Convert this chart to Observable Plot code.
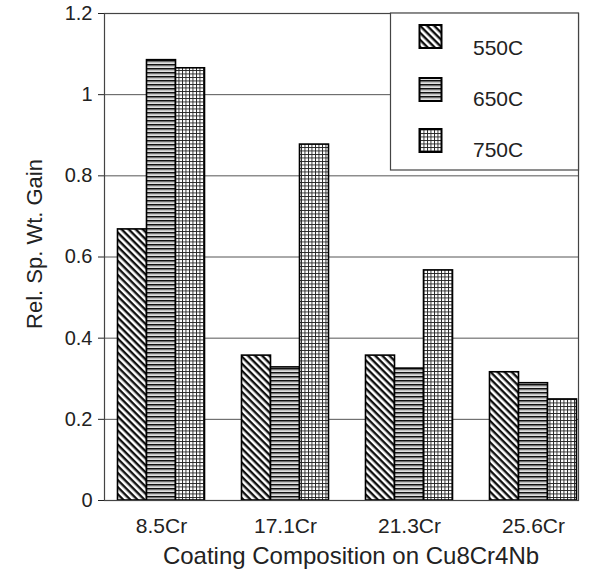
<!DOCTYPE html>
<html>
<head>
<meta charset="utf-8">
<script src="https://cdn.jsdelivr.net/npm/d3@7"></script>
<script src="https://cdn.jsdelivr.net/npm/@observablehq/plot@0.6"></script>
<style>
  html, body { margin: 0; padding: 0; background: #fff; }
  #chart { width: 599px; height: 572px; }
</style>
</head>
<body>
<div id="chart"></div>
<script>
// ---- data ----
const categories = ["8.5Cr", "17.1Cr", "21.3Cr", "25.6Cr"];
const series = ["550C", "650C", "750C"];
const values550 = [0.668, 0.357, 0.357, 0.316];
const values650 = [1.085, 0.328, 0.325, 0.289];
const values750 = [1.065, 0.877, 0.567, 0.249];
const yTicks = [0, 0.2, 0.4, 0.6, 0.8, 1, 1.2];
const yLabels = ["0", "0.2", "0.4", "0.6", "0.8", "1", "1.2"];
const xTitle = "Coating Composition on Cu8Cr4Nb";
const yTitle = "Rel. Sp. Wt. Gain";

const seriesValues = [values550, values650, values750];
const patternIds = ["p550", "p650", "p750"];
const tables = seriesValues.map(vals => categories.map((c, i) => ({cat: c, value: vals[i]})));

const FONT = "'Liberation Sans', Arial, Helvetica, sans-serif";
const barW = 29;
const band = 124;
const groupW = barW * series.length;

const barMarks = tables.map((tbl, j) => {
  const left = (band - groupW) / 2 + j * barW;
  return Plot.barY(tbl, {
    x: "cat", y: "value",
    fill: `url(#${patternIds[j]})`,
    stroke: "#000", strokeWidth: 1.6,
    insetLeft: left, insetRight: band - left - barW
  });
});

const chart = Plot.plot({
  width: 599,
  height: 572,
  marginTop: 13,
  marginBottom: 72,
  marginLeft: 104,
  marginRight: 21,
  style: {fontFamily: FONT, fontSize: "20px", color: "#222", background: "#fff", overflow: "visible"},
  x: {domain: categories, range: [98.5, 98.5 + band * categories.length], padding: 0,
      tickSize: 0, tickPadding: 18, label: null},
  y: {domain: [0, 1.2], ticks: yTicks, tickFormat: d => yLabels[yTicks.indexOf(d)],
      tickSize: 6, tickPadding: 6, label: null},
  marks: [
    Plot.ruleY(yTicks.slice(1, -1), {stroke: "#555", strokeWidth: 1}),
    ...barMarks,
    Plot.frame({stroke: "#444", strokeWidth: 1.2})
  ]
});

document.getElementById("chart").appendChild(chart);

const svg = d3.select(chart);
// slightly larger category labels
svg.selectAll("[aria-label^='x-axis'] text").style("font-size", "21px");

// patterns
const defs = svg.insert("defs", ":first-child");
const p1 = defs.append("pattern").attr("id", "p550").attr("patternUnits", "userSpaceOnUse")
  .attr("width", 5).attr("height", 5).attr("patternTransform", "rotate(45)");
p1.append("rect").attr("width", 5).attr("height", 5).attr("fill", "#fff");
p1.append("rect").attr("width", 5).attr("height", 2.4).attr("fill", "#111");

const p2 = defs.append("pattern").attr("id", "p650").attr("patternUnits", "userSpaceOnUse")
  .attr("width", 4).attr("height", 4);
p2.append("rect").attr("width", 4).attr("height", 4).attr("fill", "#fff");
p2.append("rect").attr("width", 4).attr("height", 1.6).attr("fill", "#111");
p2.append("rect").attr("y", 2.4).attr("width", 4).attr("height", 0.9).attr("fill", "#999");

const p3 = defs.append("pattern").attr("id", "p750").attr("patternUnits", "userSpaceOnUse")
  .attr("width", 3.5).attr("height", 3.5);
p3.append("rect").attr("width", 3.5).attr("height", 3.5).attr("fill", "#fff");
p3.append("rect").attr("width", 3.5).attr("height", 0.9).attr("fill", "#222");
p3.append("rect").attr("width", 0.9).attr("height", 3.5).attr("fill", "#222");

// axis titles
svg.append("text")
  .attr("transform", "translate(34,244) rotate(-90)")
  .attr("text-anchor", "middle").attr("dominant-baseline", "central")
  .attr("font-size", 22).attr("fill", "#222").attr("font-family", FONT)
  .text(yTitle);
svg.append("text")
  .attr("x", 351).attr("y", 564)
  .attr("text-anchor", "middle")
  .attr("font-size", 24).attr("fill", "#222").attr("font-family", FONT)
  .text(xTitle);

// legend
const lg = svg.append("g");
lg.append("rect").attr("x", 390.5).attr("y", 13).attr("width", 188).attr("height", 157)
  .attr("fill", "#fff").attr("stroke", "#444").attr("stroke-width", 1.2);
const rowY = [25, 78, 129];
const textY = [55, 106, 157];
series.forEach((s, j) => {
  lg.append("rect").attr("x", 419.5).attr("y", rowY[j]).attr("width", 22).attr("height", 23)
    .attr("fill", `url(#${patternIds[j]})`).attr("stroke", "#000").attr("stroke-width", 2);
  lg.append("text").attr("x", 473).attr("y", textY[j])
    .attr("text-anchor", "start")
    .attr("font-size", 21).attr("fill", "#222").attr("font-family", FONT)
    .text(s);
});
</script>
</body>
</html>
